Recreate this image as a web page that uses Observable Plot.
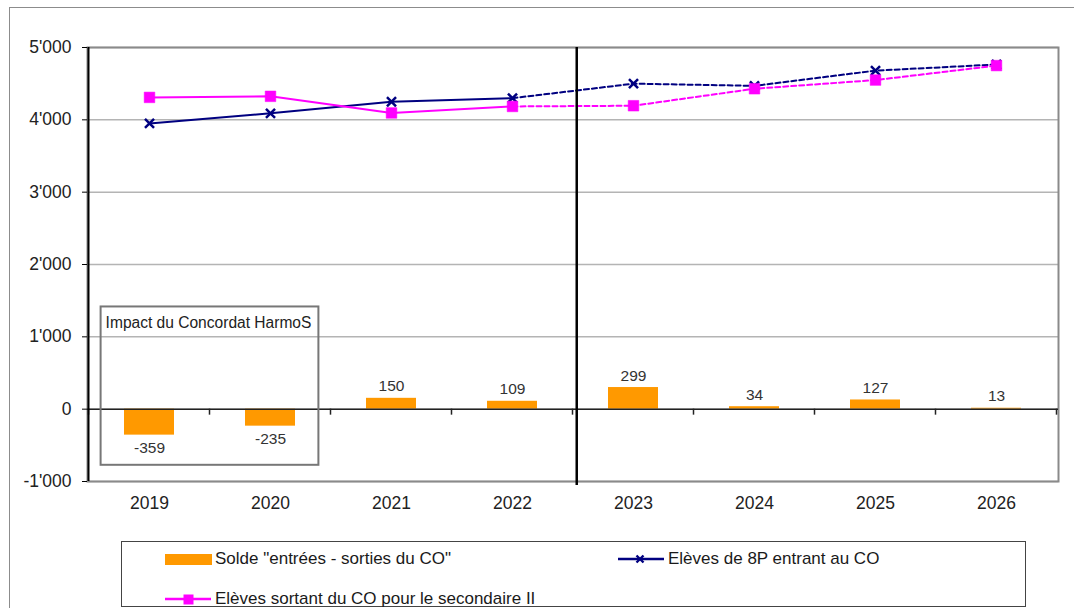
<!DOCTYPE html>
<html><head><meta charset="utf-8">
<script src="https://cdn.jsdelivr.net/npm/d3@7"></script>
<script src="https://cdn.jsdelivr.net/npm/@observablehq/plot@0.6"></script>
<style>
body{margin:0;background:#fff;overflow:hidden}
#wrap{position:relative;width:1074px;height:608px;overflow:hidden;font-family:"Liberation Sans",Arial,sans-serif}
#outer{position:absolute;left:9px;top:7px;width:1100px;height:700px;border-left:1.5px solid #8c8c8c;border-top:1.5px solid #8c8c8c}
#chart{position:absolute;left:0;top:0}
#legend{position:absolute;left:121px;top:541px;width:905px;height:66px;border:1.5px solid #444;box-sizing:border-box;background:#fff;
  font-family:"Liberation Sans",Arial,sans-serif;font-size:17px;color:#1a1a1a}
.item{position:absolute;display:flex;align-items:center;white-space:nowrap;height:22px}
.item svg{margin-right:3px}
</style></head>
<body><div id="wrap"><div id="outer"></div><div id="chart"></div><div id="legend"></div></div>
<script>
// ---- data ----
const years = ["2019","2020","2021","2022","2023","2024","2025","2026"];
const solde = [-359, -235, 150, 109, 299, 34, 127, 13];
const entrants = [3950, 4090, 4250, 4300, 4500, 4470, 4680, 4765];
const sortants = [4310, 4325, 4095, 4185, 4195, 4430, 4550, 4750];
const yTicks = [-1000, 0, 1000, 2000, 3000, 4000, 5000];
const lastObservedYear = "2022";
const harmosYears = ["2019", "2020"];
const harmosRange = [-776, 1413];
const harmosLabel = "Impact du Concordat HarmoS";
const legendLabels = ["Solde \"entrées - sorties du CO\"", "Elèves de 8P entrant au CO", "Elèves sortant du CO pour le secondaire II"];

const ORANGE = "#FF9900", NAVY = "#000080", PINK = "#FF00FF";

const rows = years.map((year, i) => ({year, solde: solde[i], entrants: entrants[i], sortants: sortants[i]}));
const splitIdx = years.indexOf(lastObservedYear);
const solid = rows.slice(0, splitIdx + 1);
const dashed = rows.slice(splitIdx);

const fmt = d => d3.format(",")(d).replace(/,/g, "'").replace("\u2212", "-");

const chart = Plot.plot({
  width: 1074,
  height: 530,
  marginLeft: 87,
  marginRight: 16,
  marginTop: 47,
  marginBottom: 49,
  style: {fontFamily: "'Liberation Sans', Arial, sans-serif", fontSize: "17.5px", color: "#222", background: "transparent"},
  x: {domain: years, paddingInner: 0.59, paddingOuter: 0.295, label: null},
  y: {domain: [-1000, 5000], label: null},
  marks: [
    Plot.gridY(yTicks, {stroke: "#b4b4b4", strokeOpacity: 1, strokeWidth: 1.5}),
    Plot.frame({stroke: "#8a8a8a", strokeWidth: 2}),
    Plot.barY(rows, {x: "year", y: "solde", fill: ORANGE}),
    Plot.ruleY([0], {stroke: "#222", strokeWidth: 1.5}),
    Plot.text(rows.filter(d => d.solde >= 0), {x: "year", y: "solde", text: d => String(d.solde), dy: -12, fontSize: 15.5, fill: "#333"}),
    Plot.text(rows.filter(d => d.solde < 0), {x: "year", y: "solde", text: d => String(d.solde), dy: 13, fontSize: 15.5, fill: "#333"}),
    Plot.line(solid, {x: "year", y: "entrants", stroke: NAVY, strokeWidth: 2}),
    Plot.line(dashed, {x: "year", y: "entrants", stroke: NAVY, strokeWidth: 2, strokeDasharray: "5,3"}),
    Plot.dot(rows, {x: "year", y: "entrants", symbol: "times", stroke: NAVY, strokeWidth: 2.5, r: 4.2}),
    Plot.line(solid, {x: "year", y: "sortants", stroke: PINK, strokeWidth: 2}),
    Plot.line(dashed, {x: "year", y: "sortants", stroke: PINK, strokeWidth: 2, strokeDasharray: "5,3"}),
    Plot.dot(rows, {x: "year", y: "sortants", symbol: "square", fill: PINK, stroke: PINK, strokeWidth: 0.5, r: 6}),
    Plot.axisY({ticks: yTicks, tickFormat: fmt, tickSize: 5, tickPadding: 11, stroke: "#000"}),
    Plot.axisX({tickSize: 0, tickPadding: 15})
  ]
});
document.getElementById("chart").appendChild(chart);

// ---- annotations drawn from the scales ----
const sx = chart.scale("x"), sy = chart.scale("y");
const step = sx.step, bw = sx.bandwidth;
const center = y => sx.apply(y) + bw / 2;
const svg = d3.select(chart);
const g = svg.append("g").attr("text-anchor", "start");
const yTop = sy.apply(5000), yBot = sy.apply(-1000), y0 = sy.apply(0);
const xLeft = sx.apply(years[0]) - (step - bw) / 2;

// zero-axis ticks at category boundaries
for (let i = 0; i <= years.length; i++) {
  const xb = xLeft + i * step;
  g.append("line").attr("x1", xb).attr("x2", xb).attr("y1", y0).attr("y2", y0 + 6).attr("stroke", "#222").attr("stroke-width", 1.5);
}
// left axis line
g.append("line").attr("x1", xLeft).attr("x2", xLeft).attr("y1", yTop).attr("y2", yBot).attr("stroke", "#000").attr("stroke-width", 2);
// divider between observed and projected years
const xDiv = sx.apply(years[splitIdx + 1]) - (step - bw) / 2 + step * 0.035;
g.append("line").attr("x1", xDiv).attr("x2", xDiv).attr("y1", yTop).attr("y2", yBot + 4).attr("stroke", "#000").attr("stroke-width", 2.5);
// HarmoS box
const hx1 = center(harmosYears[0]) - step * 0.4, hx2 = center(harmosYears[1]) + step * 0.4;
const hy1 = sy.apply(harmosRange[1]), hy2 = sy.apply(harmosRange[0]);
g.append("rect").attr("x", hx1).attr("y", hy1).attr("width", hx2 - hx1).attr("height", hy2 - hy1)
  .attr("fill", "none").attr("stroke", "#777").attr("stroke-width", 2);
g.append("text").attr("x", hx1 + 5).attr("y", hy1 + 22).text(harmosLabel)
  .attr("text-anchor", "start")
  .attr("font-family", "'Liberation Sans',Arial,sans-serif")
  .attr("font-size", 16).attr("fill", "#222")
  .attr("textLength", (hx2 - hx1) - 12).attr("lengthAdjust", "spacingAndGlyphs");

// ---- legend ----
const legend = d3.select("#legend");
function item(left, top, swatch, label) {
  const it = legend.append("div").attr("class", "item").style("left", left + "px").style("top", top + "px");
  const s = it.append("svg").attr("width", 48).attr("height", 22);
  swatch(s);
  it.append("span").text(label);
}
item(42, 6, s => s.append("rect").attr("x", 1).attr("y", 6).attr("width", 47).attr("height", 11).attr("fill", ORANGE), legendLabels[0]);
item(495, 6, s => {
  s.append("line").attr("x1", 1).attr("x2", 47).attr("y1", 11).attr("y2", 11).attr("stroke", NAVY).attr("stroke-width", 2.5);
  s.append("path").attr("d", "M19.5,7.5L26.5,14.5M26.5,7.5L19.5,14.5").attr("stroke", NAVY).attr("stroke-width", 2.4);
}, legendLabels[1]);
item(42, 46, s => {
  s.append("line").attr("x1", 1).attr("x2", 47).attr("y1", 11).attr("y2", 11).attr("stroke", PINK).attr("stroke-width", 2.5);
  s.append("rect").attr("x", 19.5).attr("y", 6.5).attr("width", 10).attr("height", 10).attr("fill", PINK);
}, legendLabels[2]);
</script>
</body></html>
